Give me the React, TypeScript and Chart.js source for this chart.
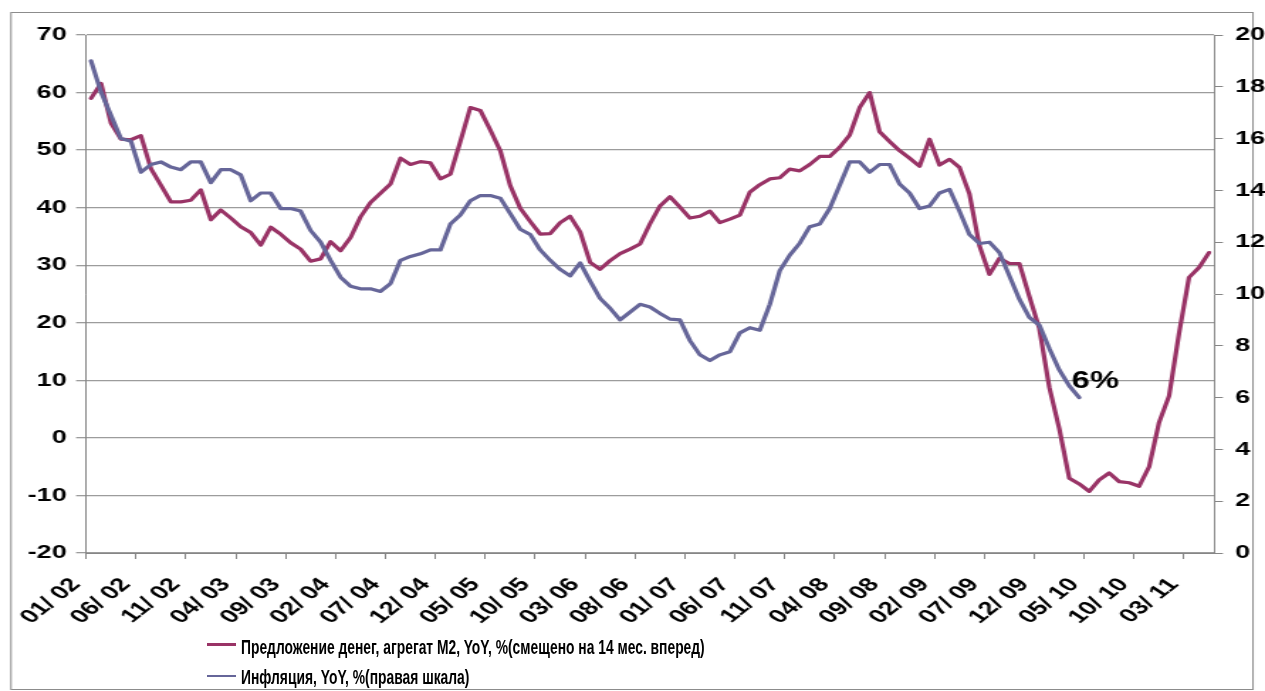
import React, { useEffect, useLayoutEffect, useRef } from 'react';
import { Chart, registerables } from 'chart.js';

Chart.register(...registerables);

// Monthly categories, 01/02 .. 05/11
const categories: string[] = [
  '01/ 02', '02/ 02', '03/ 02', '04/ 02', '05/ 02', '06/ 02', '07/ 02', '08/ 02', '09/ 02', '10/ 02', '11/ 02', '12/ 02',
  '01/ 03', '02/ 03', '03/ 03', '04/ 03', '05/ 03', '06/ 03', '07/ 03', '08/ 03', '09/ 03', '10/ 03', '11/ 03', '12/ 03',
  '01/ 04', '02/ 04', '03/ 04', '04/ 04', '05/ 04', '06/ 04', '07/ 04', '08/ 04', '09/ 04', '10/ 04', '11/ 04', '12/ 04',
  '01/ 05', '02/ 05', '03/ 05', '04/ 05', '05/ 05', '06/ 05', '07/ 05', '08/ 05', '09/ 05', '10/ 05', '11/ 05', '12/ 05',
  '01/ 06', '02/ 06', '03/ 06', '04/ 06', '05/ 06', '06/ 06', '07/ 06', '08/ 06', '09/ 06', '10/ 06', '11/ 06', '12/ 06',
  '01/ 07', '02/ 07', '03/ 07', '04/ 07', '05/ 07', '06/ 07', '07/ 07', '08/ 07', '09/ 07', '10/ 07', '11/ 07', '12/ 07',
  '01/ 08', '02/ 08', '03/ 08', '04/ 08', '05/ 08', '06/ 08', '07/ 08', '08/ 08', '09/ 08', '10/ 08', '11/ 08', '12/ 08',
  '01/ 09', '02/ 09', '03/ 09', '04/ 09', '05/ 09', '06/ 09', '07/ 09', '08/ 09', '09/ 09', '10/ 09', '11/ 09', '12/ 09',
  '01/ 10', '02/ 10', '03/ 10', '04/ 10', '05/ 10', '06/ 10', '07/ 10', '08/ 10', '09/ 10', '10/ 10', '11/ 10', '12/ 10',
  '01/ 11', '02/ 11', '03/ 11', '04/ 11', '05/ 11',
];

// M2 money supply YoY, % (shifted 14 months forward) - left axis
const m2Values: number[] = [
  59.0, 61.6, 54.7, 51.9, 51.8, 52.5, 46.8, 43.9, 41.0, 41.0,
  41.3, 43.1, 37.9, 39.6, 38.2, 36.7, 35.7, 33.5, 36.6, 35.4,
  33.9, 32.8, 30.7, 31.1, 34.1, 32.5, 34.8, 38.4, 40.9, 42.5,
  44.1, 48.6, 47.5, 48.0, 47.8, 45.0, 45.8, 51.5, 57.4, 56.9,
  53.5, 49.9, 43.8, 39.9, 37.6, 35.4, 35.5, 37.4, 38.5, 35.8,
  30.5, 29.3, 30.8, 32.0, 32.8, 33.7, 37.2, 40.3, 41.9, 40.1,
  38.2, 38.5, 39.4, 37.4, 38.0, 38.7, 42.7, 44.0, 45.0, 45.2,
  46.7, 46.4, 47.5, 48.9, 48.9, 50.5, 52.6, 57.4, 60.0, 53.2,
  51.5, 49.9, 48.6, 47.2, 51.9, 47.4, 48.4, 47.0, 42.4, 33.4,
  28.4, 31.2, 30.3, 30.3, 24.6, 19.0, 8.8, 1.6, -7.0, -8.0,
  -9.3, -7.3, -6.1, -7.6, -7.8, -8.4, -5.0, 2.7, 7.3, 18.2,
  27.9, 29.6, 32.2,
];

// Inflation YoY, % - right axis
const inflationValues: number[] = [
  19.0, 17.8, 16.9, 16.0, 15.9, 14.7, 15.0, 15.1, 14.9, 14.8,
  15.1, 15.1, 14.3, 14.8, 14.8, 14.6, 13.6, 13.9, 13.9, 13.3,
  13.3, 13.2, 12.45, 12.0, 11.3, 10.65, 10.3, 10.2, 10.2, 10.1,
  10.4, 11.3, 11.45, 11.55, 11.7, 11.7, 12.7, 13.05, 13.6, 13.8,
  13.8, 13.7, 13.1, 12.5, 12.3, 11.7, 11.3, 10.95, 10.7, 11.2,
  10.5, 9.83, 9.45, 9.0, 9.3, 9.6, 9.5, 9.25, 9.03, 9.0,
  8.2, 7.65, 7.43, 7.65, 7.77, 8.5, 8.7, 8.6, 9.6, 10.9,
  11.5, 11.96, 12.6, 12.7, 13.3, 14.2, 15.1, 15.1, 14.7, 15.0,
  15.0, 14.25, 13.9, 13.3, 13.4, 13.9, 14.04, 13.2, 12.3, 11.95,
  12.0, 11.6, 10.7, 9.8, 9.1, 8.8, 7.9, 7.07, 6.45, 6.0,
];

const seriesNames: string[] = [
  'Предложение денег, агрегат M2, YoY, %(смещено на 14 мес. вперед)',
  'Инфляция, YoY, %(правая шкала)',
];
const seriesColors: string[] = ['#993366', '#666699'];

const leftTicks = { min: -20, max: 70, step: 10 };
const rightTicks = { min: 0, max: 20, step: 2 };
const labelEvery = 5;
const annotationText = '6%';
const annotationIndex = inflationValues.length - 1;

// Layout: canvas is drawn narrower and stretched horizontally like the reference
const PAGE_W = 1265;
const PAGE_H = 691;
const CANVAS_W = 891;
const S = PAGE_W / CANVAS_W;

const FONT_FAMILY = "'Liberation Sans', Arial, Helvetica, sans-serif";
const LEGEND_FAMILY = "'Liberation Sans Narrow', 'Arial Narrow', 'Liberation Sans', Arial, sans-serif";
const tickFont = { family: FONT_FAMILY, size: 19, weight: 'bold' as const };

export default function App() {
  const canvasRef = useRef<HTMLCanvasElement | null>(null);
  const legendRefs = useRef<(HTMLDivElement | null)[]>([]);

  useEffect(() => {
    const canvas = canvasRef.current;
    if (!canvas) return;

    const framePlugin = {
      id: 'frame',
      beforeDraw(chart: any) {
        const ctx = chart.ctx;
        ctx.save();
        ctx.fillStyle = '#ffffff';
        ctx.fillRect(0, 0, chart.width, chart.height);
        ctx.strokeStyle = '#8c8c8c';
        ctx.lineWidth = 1;
        ctx.strokeRect(11 / S, 12.5, 1253 / S - 11 / S, 689.5 - 12.5);
        ctx.restore();
      },
    };

    const annotationPlugin = {
      id: 'annot',
      afterDatasetsDraw(chart: any) {
        const ctx = chart.ctx;
        const x = chart.scales.x.getPixelForValue(annotationIndex) - 5.3;
        const y = chart.scales.y1.getPixelForValue(inflationValues[annotationIndex]) - 9.3;
        ctx.save();
        ctx.font = `bold 23px ${FONT_FAMILY}`;
        ctx.fillStyle = '#000';
        ctx.textAlign = 'left';
        ctx.textBaseline = 'alphabetic';
        ctx.fillText(annotationText, x, y);
        ctx.restore();
      },
    };

    const chart = new Chart(canvas, {
      type: 'line',
      data: {
        labels: categories,
        datasets: [
          {
            label: seriesNames[0],
            data: m2Values,
            borderColor: seriesColors[0],
            backgroundColor: seriesColors[0],
            borderWidth: 3.2,
            pointRadius: 0,
            tension: 0,
            yAxisID: 'y',
            order: 2,
            borderJoinStyle: 'round',
            borderCapStyle: 'round',
          },
          {
            label: seriesNames[1],
            data: inflationValues,
            borderColor: seriesColors[1],
            backgroundColor: seriesColors[1],
            borderWidth: 3.2,
            pointRadius: 0,
            tension: 0,
            yAxisID: 'y1',
            order: 1,
            borderJoinStyle: 'round',
            borderCapStyle: 'round',
          },
        ],
      },
      options: {
        animation: false,
        responsive: false,
        maintainAspectRatio: false,
        devicePixelRatio: 1,
        layout: { padding: { top: 35, left: 0, right: 0, bottom: 0 } },
        plugins: {
          legend: { display: false },
          tooltip: { enabled: false },
        },
        scales: {
          x: {
            type: 'category',
            offset: true,
            grid: {
              offset: true,
              drawOnChartArea: false,
              drawTicks: true,
              tickLength: 6,
              lineWidth: 1,
              color: (c: any) => (c.index % labelEvery === 0 ? '#868686' : 'rgba(0,0,0,0)'),
            },
            border: { display: true, color: '#868686', width: 1 },
            ticks: {
              autoSkip: false,
              minRotation: 48,
              maxRotation: 48,
              padding: 3,
              font: tickFont,
              color: '#000',
              callback: (_v: any, i: number) => (i % labelEvery === 0 ? categories[i] + '   ' : ''),
            },
            afterFit: (s: any) => {
              s.height = PAGE_H - 553;
            },
          },
          y: {
            position: 'left',
            min: leftTicks.min,
            max: leftTicks.max,
            ticks: { stepSize: leftTicks.step, padding: 6.6, font: tickFont, color: '#000' },
            grid: { color: '#9c9c9c', lineWidth: 1.3, tickLength: 7 },
            border: { display: true, color: '#868686', width: 1 },
            afterFit: (s: any) => {
              s.width = 86 / S;
            },
          },
          y1: {
            position: 'right',
            min: rightTicks.min,
            max: rightTicks.max,
            ticks: { stepSize: rightTicks.step, padding: 8.5, font: tickFont, color: '#000' },
            grid: { drawOnChartArea: false, color: '#868686', lineWidth: 1, tickLength: 6.3 },
            border: { display: true, color: '#868686', width: 1 },
            afterFit: (s: any) => {
              s.width = CANVAS_W - 1214 / S;
            },
          },
        },
      } as any,
      plugins: [framePlugin, annotationPlugin],
    });

    return () => {
      chart.destroy();
    };
  }, []);

  useLayoutEffect(() => {
    const first = legendRefs.current[0];
    if (!first) return;
    const w = first.offsetWidth;
    const k = w > 0 ? 464 / w : 0.71;
    legendRefs.current.forEach((el) => {
      if (el) el.style.transform = `scaleX(${k})`;
    });
  }, []);

  const legendRows = [
    { lineTop: 643, textTop: 636 },
    { lineTop: 674.7, textTop: 666 },
  ];

  return (
    <div
      style={{
        position: 'absolute',
        left: 0,
        top: 0,
        width: PAGE_W,
        height: PAGE_H,
        overflow: 'hidden',
        background: '#fff',
      }}
    >
      <canvas
        ref={canvasRef}
        width={CANVAS_W}
        height={PAGE_H}
        style={{ width: PAGE_W + 'px', height: PAGE_H + 'px', display: 'block' }}
      />
      {seriesNames.map((name, i) => (
        <React.Fragment key={name}>
          <div
            style={{
              position: 'absolute',
              left: 207,
              top: legendRows[i].lineTop,
              width: 29,
              height: 2.5,
              background: seriesColors[i],
            }}
          />
          <div
            ref={(el) => {
              legendRefs.current[i] = el;
            }}
            style={{
              position: 'absolute',
              left: 240.5,
              top: legendRows[i].textTop,
              font: `bold 21px ${LEGEND_FAMILY}`,
              lineHeight: '22px',
              whiteSpace: 'nowrap',
              color: '#000',
              transformOrigin: 'left center',
              transform: 'scaleX(0.8)',
            }}
          >
            {name}
          </div>
        </React.Fragment>
      ))}
    </div>
  );
}
